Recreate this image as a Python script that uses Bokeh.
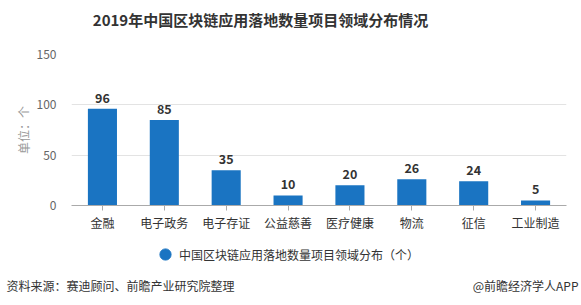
from bokeh.plotting import figure
from bokeh.layouts import column
from bokeh.models import (FactorRange, Range1d, Label, Legend, LegendItem,
                          ColumnDataSource, FixedTicker)
from bokeh.core.properties import value
from bokeh.embed import file_html
from bokeh.resources import INLINE

categories = ["金融", "电子政务", "电子存证", "公益慈善", "医疗健康", "物流", "征信", "工业制造"]
counts = [96, 85, 35, 10, 20, 26, 24, 5]
y_ticks = [0, 50, 100, 150]
title_text = "2019年中国区块链应用落地数量项目领域分布情况"
series_name = "中国区块链应用落地数量项目领域分布（个）"
unit_text = "单位：个"
source_text = "资料来源：赛迪顾问、前瞻产业研究院整理"
brand_text = "@前瞻经济学人APP"

FONT = "Noto Sans CJK SC"
BAR = "#1a74c2"
W = 581


def blank(height, y0):
    """A figure whose frame covers it fully; data coords = canvas px."""
    f = figure(width=W, height=height, output_backend="svg",
               toolbar_location=None,
               x_range=Range1d(0, W), y_range=Range1d(y0 + height, y0),
               min_border=0, frame_align=False)
    f.axis.visible = False
    f.grid.visible = False
    f.outline_line_color = None
    f.background_fill_color = "white"
    f.border_fill_color = "white"
    return f


# ---------- header (title) ----------
head = blank(40, 0)
head.add_layout(Label(x=260, y=19, text=title_text, text_align="center",
                      text_baseline="middle", text_font=FONT,
                      text_font_style="bold", text_font_size="15px",
                      text_color="#333333"))

# ---------- main chart ----------
src = ColumnDataSource(dict(cat=categories, val=counts,
                            lab=[str(v) for v in counts]))

p = figure(width=W, height=195, output_backend="svg", toolbar_location=None,
           x_range=FactorRange(factors=categories, range_padding=0),
           y_range=Range1d(0, 150),
           min_border_left=71, min_border_right=15,
           min_border_top=14, min_border_bottom=30, frame_align=False)
p.outline_line_color = None
p.background_fill_color = "white"
p.border_fill_color = "white"

p.vbar(x="cat", top="val", width=0.47, source=src,
       fill_color=BAR, line_color=None)
p.text(x="cat", y="val", text="lab", source=src, y_offset=-6,
       text_align="center", text_baseline="bottom",
       text_font=value(FONT), text_font_style="bold",
       text_font_size="12.5px", text_color="#333333")

p.yaxis.ticker = FixedTicker(ticks=y_ticks)
p.yaxis.axis_line_color = None
p.yaxis.major_tick_line_color = None
p.yaxis.minor_tick_line_color = None
p.yaxis.major_label_text_font = FONT
p.yaxis.major_label_text_font_size = "12px"
p.yaxis.major_label_text_color = "#666666"
p.yaxis.major_label_standoff = 9
p.yaxis.axis_label = unit_text
p.yaxis.axis_label_text_font = FONT
p.yaxis.axis_label_text_font_size = "12px"
p.yaxis.axis_label_text_font_style = "normal"
p.yaxis.axis_label_text_color = "#999999"
p.yaxis.axis_label_standoff = 2

p.xaxis.axis_line_color = "#aaaaaa"
p.xaxis.major_tick_line_color = "#aaaaaa"
p.xaxis.major_tick_in = 0
p.xaxis.major_tick_out = 5
p.xaxis.major_label_text_font = FONT
p.xaxis.major_label_text_font_size = "12px"
p.xaxis.major_label_text_color = "#333333"
p.xaxis.major_label_standoff = 3

p.xgrid.grid_line_color = None
p.ygrid.grid_line_color = "#e3e3e3"
p.ygrid.ticker = FixedTicker(ticks=[50, 100, 150])

# ---------- footer (legend + source) ----------
foot = blank(70, 235)
dummy = foot.scatter(x=[-100], y=[-100], marker="circle", size=11,
                     fill_color=BAR, line_color=BAR)
legend = Legend(items=[LegendItem(label=series_name, renderers=[dummy])],
                location=(151, 37), orientation="horizontal",
                label_text_font=FONT, label_text_font_size="12px",
                label_text_color="#333333", border_line_color=None,
                background_fill_alpha=0, glyph_width=28, glyph_height=28,
                label_height=28, label_standoff=0, padding=0, margin=0)
foot.add_layout(legend, "center")
foot.add_layout(Label(x=6, y=285, text=source_text, text_align="left",
                      text_baseline="middle", text_font=FONT,
                      text_font_size="12px", text_color="#333333"))
foot.add_layout(Label(x=578, y=285, text=brand_text, text_align="right",
                      text_baseline="middle", text_font=FONT,
                      text_font_size="12px", text_color="#333333"))

layout = column(head, p, foot, spacing=0)
open("out.html", "w").write(file_html(layout, INLINE))
